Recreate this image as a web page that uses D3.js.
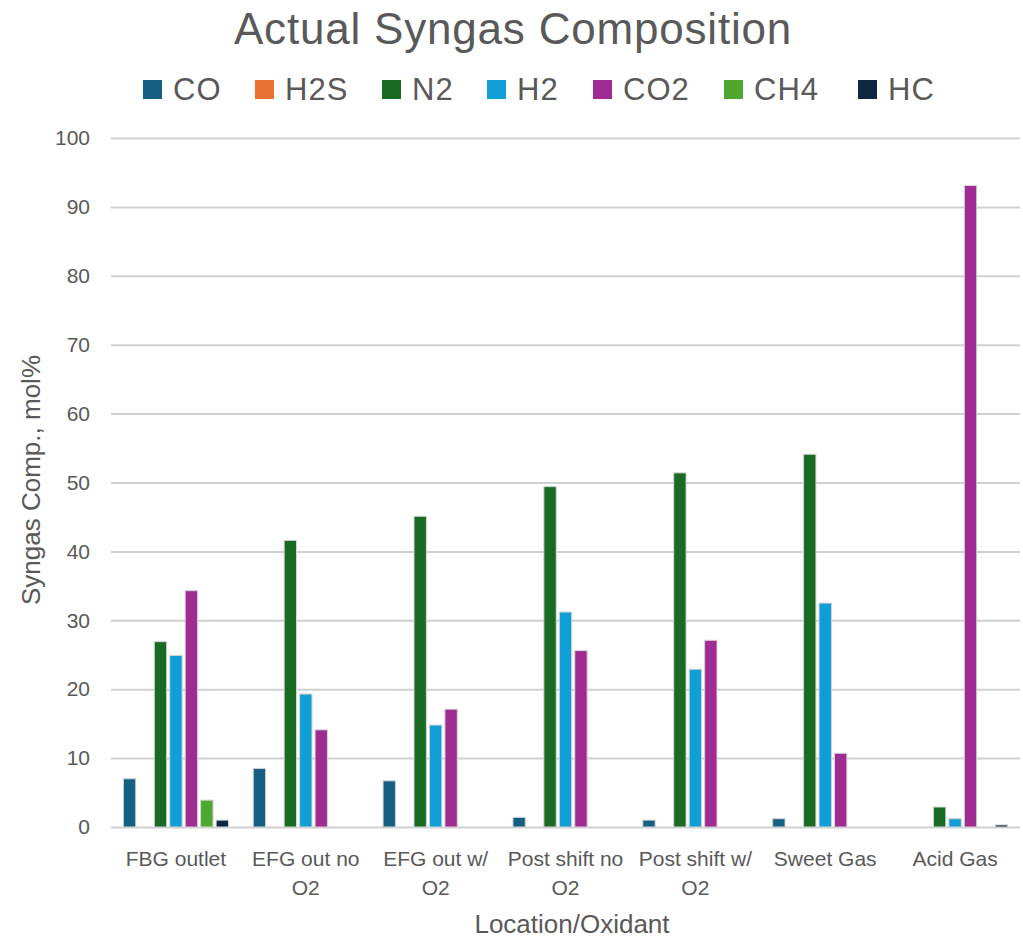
<!DOCTYPE html>
<html>
<head>
<meta charset="utf-8">
<script src="https://cdn.jsdelivr.net/npm/d3@7"></script>
<style>
  html, body { margin: 0; padding: 0; background: #fff; }
  svg { display: block; font-family: "Liberation Sans", Arial, sans-serif; }
</style>
</head>
<body>
<svg id="chart" width="1023" height="940"></svg>
<script>
const categories = [
  ["FBG outlet"],
  ["EFG out no", "O2"],
  ["EFG out w/", "O2"],
  ["Post shift no", "O2"],
  ["Post shift w/", "O2"],
  ["Sweet Gas"],
  ["Acid Gas"]
];
const seriesNames = ["CO", "H2S", "N2", "H2", "CO2", "CH4", "HC"];
const seriesColors = ["#156082", "#E97132", "#196B24", "#0F9ED5", "#A02B93", "#4EA72E", "#0E2841"];

const CO  = [7.0, 8.5, 6.7, 1.4, 1.0, 1.2, 0];
const H2S = [0, 0, 0, 0, 0, 0, 0];
const N2  = [26.9, 41.6, 45.1, 49.4, 51.4, 54.1, 2.9];
const H2  = [24.9, 19.3, 14.8, 31.2, 22.9, 32.5, 1.2];
const CO2 = [34.3, 14.1, 17.1, 25.6, 27.1, 10.7, 93.1];
const CH4 = [3.9, 0, 0, 0, 0, 0, 0];
const HC  = [1.0, 0, 0, 0, 0, 0, 0.3];
const yTicks = [0, 10, 20, 30, 40, 50, 60, 70, 80, 90, 100];

const seriesValues = [CO, H2S, N2, H2, CO2, CH4, HC];

const svg = d3.select("#chart");
const margin = { left: 111, right: 1020, top: 138, bottom: 827 };
const textColor = "#595959";
const ff = "Liberation Sans, Arial, sans-serif";

const catKeys = categories.map((c, i) => i);
const x0 = d3.scaleBand().domain(catKeys).range([margin.left, margin.right]).padding(0);
const x1 = d3.scaleBand().domain(seriesNames).range([0, x0.bandwidth()]).paddingInner(0.2).paddingOuter(0.8);
const y = d3.scaleLinear().domain([0, 100]).range([margin.bottom, margin.top]);

// Title
svg.append("text")
  .attr("x", 513).attr("y", 44)
  .attr("text-anchor", "middle")
  .attr("font-size", 44)
  .attr("letter-spacing", 0.8)
  .attr("fill", textColor)
  .text("Actual Syngas Composition");

// Legend
const legendX = [143, 255, 382, 487, 593, 724, 858];
const legend = svg.append("g");
seriesNames.forEach((s, i) => {
  const g = legend.append("g").attr("transform", `translate(${legendX[i]},0)`);
  g.append("rect").attr("x", 0).attr("y", 80).attr("width", 19).attr("height", 19).attr("fill", seriesColors[i]);
  g.append("text").attr("x", 30).attr("y", 100).attr("font-size", 31).attr("letter-spacing", 1)
    .attr("fill", textColor).text(s);
});

// Grid + y axis
const yAxis = d3.axisLeft(y).tickValues(yTicks).tickSize(-(margin.right - margin.left)).tickPadding(21);
const yg = svg.append("g").attr("transform", `translate(${margin.left},0)`).call(yAxis);
yg.select(".domain").remove();
yg.selectAll(".tick line").attr("stroke", "#d0d0d0").attr("stroke-width", 2);
yg.selectAll(".tick text").attr("font-size", 21).attr("fill", textColor).attr("font-family", ff);

// Bars
const groups = svg.append("g").selectAll("g")
  .data(catKeys).join("g")
  .attr("transform", d => `translate(${x0(d)},0)`);

groups.selectAll("rect")
  .data(ci => seriesNames.map((s, si) => ({ s, si, v: seriesValues[si][ci] })).filter(d => d.v > 0))
  .join("rect")
  .attr("x", d => x1(d.s))
  .attr("width", x1.bandwidth())
  .attr("y", d => y(d.v))
  .attr("height", d => y(0) - y(d.v))
  .attr("fill", d => seriesColors[d.si])
  .attr("stroke", "#d4d4d4")
  .attr("stroke-width", 1);

// X axis labels
const xAxis = d3.axisBottom(x0).tickSize(0).tickFormat(() => "");
const xg = svg.append("g").attr("transform", `translate(0,${margin.bottom})`).call(xAxis);
xg.select(".domain").remove();
xg.selectAll(".tick").each(function(d) {
  const t = d3.select(this).append("text")
    .attr("text-anchor", "middle")
    .attr("font-size", 21)
    .attr("fill", textColor)
    .attr("font-family", ff);
  categories[d].forEach((line, li) => {
    t.append("tspan").attr("x", 0).attr("y", 39 + li * 29).text(line);
  });
});

// Axis titles
svg.append("text")
  .attr("x", 572).attr("y", 933)
  .attr("text-anchor", "middle")
  .attr("font-size", 26)
  .attr("fill", textColor)
  .text("Location/Oxidant");

svg.append("text")
  .attr("transform", `translate(40,480) rotate(-90)`)
  .attr("text-anchor", "middle")
  .attr("font-size", 26)
  .attr("fill", textColor)
  .text("Syngas Comp., mol%");
</script>
</body>
</html>
